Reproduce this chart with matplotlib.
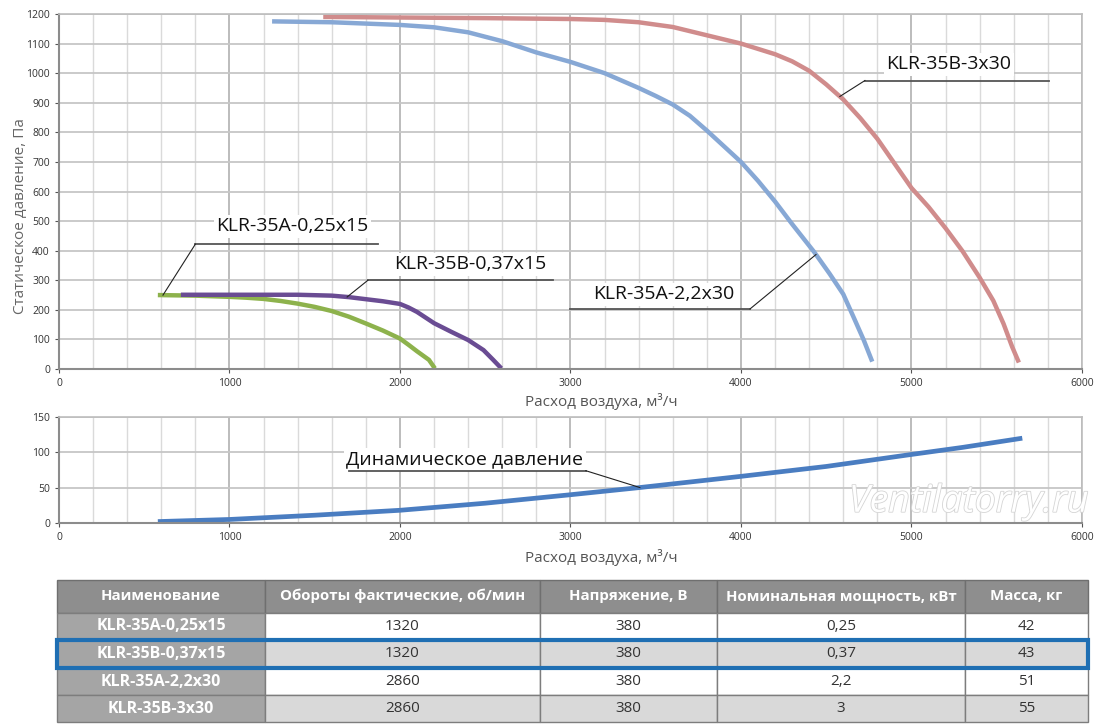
import numpy as np
import matplotlib.pyplot as plt
import matplotlib.patheffects as pe
from matplotlib.patches import Rectangle

plt.rcParams['font.family'] = ['Open Sans', 'DejaVu Sans']

# fan curves: flow m3/h -> static pressure Pa
green_q = [580, 800, 1000, 1100, 1200, 1300, 1400, 1500, 1600, 1700, 1800, 1900,
           2000, 2050, 2100, 2170, 2205]
green_p = [250, 248, 244, 241, 237, 230, 221, 210, 196, 177, 154, 130,
           103, 82, 60, 31, 2]

purple_q = [715, 1000, 1400, 1600, 1700, 1800, 1900, 2000, 2050, 2100, 2200, 2300,
            2400, 2490, 2545, 2595]
purple_p = [251, 251, 251, 248, 243, 236, 229, 220, 208, 193, 155, 126,
            98, 64, 32, 2]

blue_q = [1250, 1600, 2000, 2200, 2400, 2600, 2800, 3000, 3200, 3400, 3500, 3600,
          3700, 3800, 4000, 4100, 4200, 4300, 4430, 4520, 4600, 4660, 4720, 4770]
blue_p = [1175, 1172, 1163, 1155, 1138, 1108, 1070, 1038, 1000, 950, 923, 894,
          856, 806, 700, 636, 566, 490, 395, 322, 253, 176, 98, 25]

red_q = [1550, 2000, 2500, 3000, 3200, 3400, 3600, 3800, 4000, 4200, 4300, 4400,
         4500, 4600, 4700, 4800, 5000, 5100, 5200, 5300, 5400, 5480, 5540, 5590, 5630]
red_p = [1190, 1188, 1186, 1183, 1180, 1172, 1156, 1128, 1100, 1064, 1040, 1008,
         962, 911, 848, 778, 612, 548, 476, 398, 309, 231, 153, 76, 22]

# dynamic pressure
dyn_q = [580, 1000, 1500, 2000, 2500, 3000, 3400, 4000, 4500, 5000, 5300, 5650]
dyn_p = [2, 5, 11, 18, 28, 40, 50, 66, 80, 97, 107, 120]

# table
headers = ['Наименование', 'Обороты фактические, об/мин', 'Напряжение, В',
           'Номинальная мощность, кВт', 'Масса, кг']
names = ['KLR-35A-0,25x15', 'KLR-35B-0,37x15', 'KLR-35A-2,2x30', 'KLR-35B-3x30']
rpm = ['1320', '1320', '2860', '2860']
volt = ['380', '380', '380', '380']
power = ['0,25', '0,37', '2,2', '3']
mass = ['42', '43', '51', '55']

fig = plt.figure(figsize=(11, 7.28), dpi=100)
ax = fig.add_axes([0.0536, 0.4931, 0.93, 0.4877])
ax2 = fig.add_axes([0.0536, 0.2816, 0.93, 0.1456])


def style_axes(a, ymax, ystep):
    a.set_xlim(0, 6000)
    a.set_ylim(0, ymax)
    a.set_xticks(np.arange(0, 6001, 1000))
    a.set_xticks(np.arange(0, 6001, 200), minor=True)
    a.set_yticks(np.arange(0, ymax + 1, ystep))
    a.grid(which='minor', axis='x', color='#dadada', lw=1.0)
    a.grid(which='major', axis='x', color='#bcbcbc', lw=1.4)
    a.grid(which='major', axis='y', color='#c6c6c6', lw=1.3)
    a.set_axisbelow(True)
    a.tick_params(which='both', labelsize=7.5, colors='#555555', labelcolor='#333333',
                  length=3, width=0.8)
    a.tick_params(which='minor', length=0)
    for s in ['left', 'bottom']:
        a.spines[s].set_color('#8c8c8c')
        a.spines[s].set_linewidth(1.5)
    for s in ['top', 'right']:
        a.spines[s].set_color('#bdbdbd')
        a.spines[s].set_linewidth(1.2)


style_axes(ax, 1200, 100)
style_axes(ax2, 150, 50)

kw = dict(lw=3.2, solid_capstyle='butt', solid_joinstyle='round')
ax.plot(green_q, green_p, color='#8db24c', **kw)
ax.plot(purple_q, purple_p, color='#6a4c93', **kw)
ax.plot(blue_q, blue_p, color='#87a8d5', **kw)
ax.plot(red_q, red_p, color='#d08c8c', **kw)
ax2.plot(dyn_q, dyn_p, color='#4a7dc1', lw=3.4, solid_capstyle='butt',
         solid_joinstyle='round')

ax.set_ylabel('Статическое давление, Па', fontsize=11, color='#666666')
ax.yaxis.set_label_coords(-0.03, 0.43)
ax.set_xlabel('Расход воздуха, м³/ч', fontsize=11, color='#555555')
ax.xaxis.set_label_coords(0.53, -0.068)
ax2.set_xlabel('Расход воздуха, м³/ч', fontsize=11, color='#555555')
ax2.xaxis.set_label_coords(0.53, -0.25)


def callout(a, text, tx, ty, ux0, ux1, uy, qx, qs, ps, fs=14):
    py = np.interp(qx, qs, ps)
    a.plot([ux0, ux1], [uy, uy], color='#555555', lw=1.3, zorder=6)
    a.plot([ux0, qx], [uy, py], color='#222222', lw=0.8, zorder=6)
    a.text(tx, ty, text, fontsize=fs, color='#111111', ha='center', va='center',
           zorder=5, bbox=dict(facecolor='white', edgecolor='none', pad=2))


callout(ax, 'KLR-35A-0,25x15', 1370, 482, 800, 1870, 422, 610, green_q, green_p)
callout(ax, 'KLR-35B-0,37x15', 2410, 354, 1812, 2900, 300, 1690, purple_q, purple_p)
callout(ax, 'KLR-35A-2,2x30', 3550, 252, 4053, 3000, 203, 4440, blue_q, blue_p)
callout(ax, 'KLR-35B-3x30', 5220, 1030, 4727, 5806, 975, 4580, red_q, red_p)
callout(ax2, 'Динамическое давление', 2380, 90, 3090, 1700, 74, 3407, dyn_q, dyn_p)

ax2.text(6040, 30, 'Ventilatorry.ru', fontsize=27, style='italic', color='white',
         ha='right', va='center', zorder=3,
         path_effects=[pe.withStroke(linewidth=1.2, foreground='#d5d5d5')])

# table
tax = fig.add_axes([57 / 1100, 6 / 728, 1031 / 1100, 142 / 728])
tax.axis('off')
cells = [list(r) for r in zip(names, rpm, volt, power, mass)]
col_w = [208, 275, 177, 248, 123]
col_w = [w / sum(col_w) for w in col_w]
tbl = tax.table(cellText=cells, colLabels=headers, colWidths=col_w,
                cellLoc='center', bbox=[0, 0, 1, 1])
tbl.auto_set_font_size(False)
row_h = [33, 28, 28, 28, 27]
row_bg = ['white', '#d9d9d9', 'white', '#d9d9d9']
for (r, c), cell in tbl.get_celld().items():
    cell.set_height(row_h[r] / sum(row_h))
    cell.set_edgecolor('#7d7d7d')
    cell.set_linewidth(1.0)
    t = cell.get_text()
    if r == 0:
        cell.set_facecolor('#8e8e8e')
        cell.set_edgecolor('#6f6f6f')
        t.set_color('white')
        t.set_fontsize(10.8)
        t.set_fontweight('bold')
    elif c == 0:
        cell.set_facecolor('#a5a5a5')
        t.set_color('white')
        t.set_fontsize(11.5)
        t.set_fontweight('bold')
    else:
        cell.set_facecolor(row_bg[r - 1])
        t.set_color('#333333')
        t.set_fontsize(11)

# highlight second data row
hl_top = 1 - (row_h[0] + row_h[1]) / sum(row_h)
hl_bot = 1 - (row_h[0] + row_h[1] + row_h[2]) / sum(row_h)
tax.add_patch(Rectangle((0, hl_bot), 1, hl_top - hl_bot, fill=False,
                        edgecolor='#1f6fb3', lw=3, zorder=10, clip_on=False,
                        transform=tax.transAxes))

fig.savefig('out.png', dpi=100)
